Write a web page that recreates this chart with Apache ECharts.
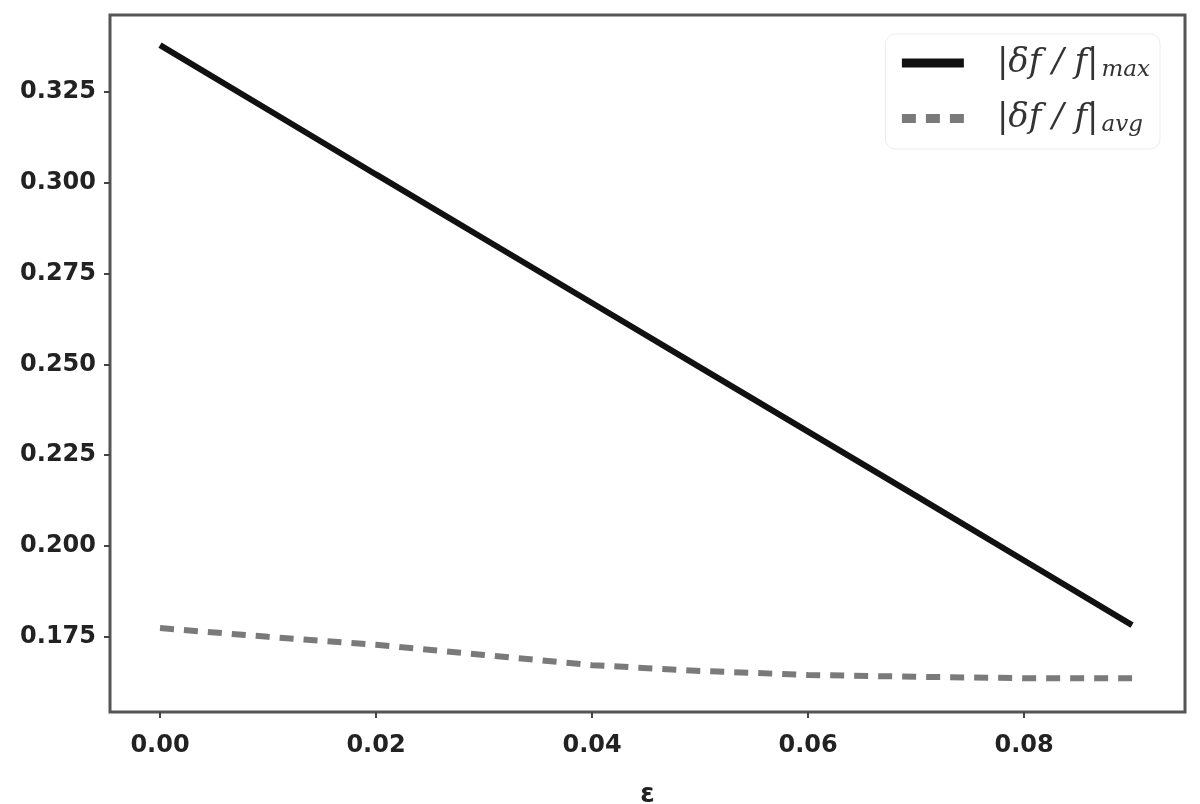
<!DOCTYPE html>
<html>
<head>
<meta charset="utf-8">
<script src="https://cdn.jsdelivr.net/npm/echarts@6/dist/echarts.min.js"></script>
<style>
  html, body { margin: 0; padding: 0; background: #fff; }
  #chart { width: 1200px; height: 804px; }
</style>
</head>
<body>
<div id="chart"></div>
<script>
// values
const xValues = [0.00, 0.01, 0.02, 0.03, 0.04, 0.05, 0.06, 0.07, 0.08, 0.09];
const solidValues = [0.3379, 0.3201, 0.3023, 0.2846, 0.2669, 0.2492, 0.2315, 0.2138, 0.1960, 0.1782];
const dashedValues = [0.1774, 0.1750, 0.1728, 0.1700, 0.1672, 0.1656, 0.1645, 0.1640, 0.1636, 0.1636];
const xTicks = [0.00, 0.02, 0.04, 0.06, 0.08];
const yTicks = [0.175, 0.200, 0.225, 0.250, 0.275, 0.300, 0.325];
const seriesNames = ['solid', 'dashed'];
const legendLabels = { solid: ['|δf / f|', 'max'], dashed: ['|δf / f|', 'avg'] };

const chart = echarts.init(document.getElementById('chart'));

const pair = (xs, ys) => xs.map((x, i) => [x, ys[i]]);
const labelFont = { fontFamily: 'DejaVu Sans', fontSize: 24, fontWeight: 'bold', color: '#222' };

chart.setOption({
  backgroundColor: '#fff',
  animation: false,
  grid: {
    left: 110, right: 15, top: 15, bottom: 92,
    outerBoundsMode: 'none',
    show: true,
    borderColor: '#555',
    borderWidth: 3,
    backgroundColor: '#fff'
  },
  legend: {
    right: 40, top: 34,
    orient: 'vertical',
    itemWidth: 62, itemHeight: 10, itemGap: 20,
    padding: [12, 10, 12, 12],
    borderColor: '#ececec', borderWidth: 1, borderRadius: 10,
    backgroundColor: 'rgba(255,255,255,0.9)',
    itemStyle: { opacity: 0 },
    lineStyle: { width: 9 },
    data: seriesNames,
    formatter: (name) => `{a|${legendLabels[name][0]}}{s|${legendLabels[name][1]}}`,
    textStyle: {
      rich: {
        a: { fontFamily: 'DejaVu Serif', fontStyle: 'italic', fontSize: 34, color: '#333', padding: [0, 0, 0, 28] },
        s: { fontFamily: 'DejaVu Serif', fontStyle: 'italic', fontSize: 23, color: '#333', verticalAlign: 'bottom', padding: [14, 0, 0, 3] }
      }
    }
  },
  xAxis: {
    type: 'value',
    min: -0.00463, max: 0.0949,
    name: 'ε',
    nameLocation: 'middle',
    nameGap: 70,
    nameTextStyle: { fontFamily: 'DejaVu Sans', fontSize: 26, fontWeight: 'bold', color: '#222' },
    splitLine: { show: false },
    axisLine: { show: false, onZero: false },
    axisTick: { show: true, customValues: xTicks, length: 6, lineStyle: { color: '#444', width: 2 } },
    axisLabel: Object.assign({
      customValues: xTicks,
      formatter: (v) => v.toFixed(2),
      margin: 22
    }, labelFont)
  },
  yAxis: {
    type: 'value',
    min: 0.1543, max: 0.3462,
    splitLine: { show: false },
    axisLine: { show: false, onZero: false },
    axisTick: { show: true, customValues: yTicks, length: 6, lineStyle: { color: '#444', width: 2 } },
    axisLabel: Object.assign({
      customValues: yTicks,
      formatter: (v) => v.toFixed(3),
      margin: 14
    }, labelFont)
  },
  series: [
    {
      name: seriesNames[0],
      type: 'line',
      data: pair(xValues, solidValues),
      symbol: 'none',
      lineStyle: { color: '#111', width: 6 },
      itemStyle: { color: '#111' }
    },
    {
      name: seriesNames[1],
      type: 'line',
      data: pair(xValues, dashedValues),
      symbol: 'none',
      lineStyle: { color: '#7a7a7a', width: 6, type: [14, 10] },
      itemStyle: { color: '#7a7a7a' }
    }
  ]
});
</script>
</body>
</html>
